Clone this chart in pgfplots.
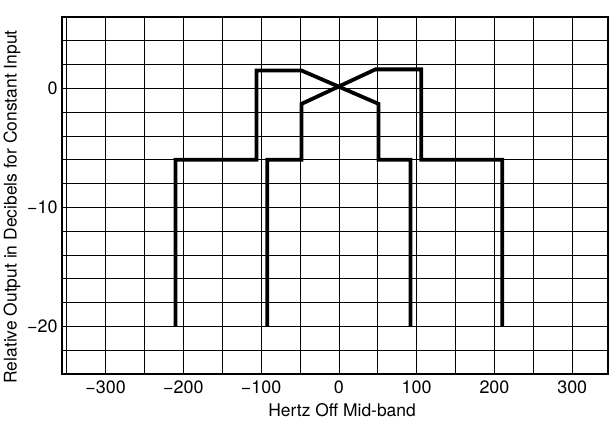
\documentclass[border=0pt]{standalone}
\usepackage{fontspec}
\setmainfont{TeX Gyre Heros}
\usepackage{pgfplots}
\pgfplotsset{compat=1.18}
\begin{document}
\begin{tikzpicture}[x=1bp,y=1bp]
\begin{axis}[
  at={(62bp,48bp)}, anchor=south west,
  scale only axis, width=546bp, height=357bp,
  xmin=-356, xmax=346, ymin=-24, ymax=6,
  xtick={-300,-200,-100,0,100,200,300},
  xticklabels={−300,−200,−100,0,100,200,300},
  minor xtick={-350,-250,-150,-50,50,150,250},
  ytick={-20,-10,0}, yticklabels={−20,−10,0},
  minor ytick={-22,-18,-16,-14,-12,-8,-6,-4,-2,2,4},
  grid=both,
  major grid style={black, line width=0.7pt},
  minor grid style={black, line width=0.7pt},
  major tick length=0pt, minor tick length=0pt,
  axis line style={line width=2pt},
  tick label style={font=\fontsize{18}{21}\selectfont},
  xticklabel style={yshift=-3bp},
  yticklabel style={xshift=-1bp},
  xlabel={Hertz Off Mid-band},
  ylabel={Relative Output in Decibels for Constant Input},
  every axis x label/.style={at={(axis description cs:0.513,-0.101)}, anchor=center, font=\fontsize{17.5}{21}\selectfont},
  every axis y label/.style={at={(axis description cs:-0.0916,0.468)}, anchor=center, rotate=90, font=\fontsize{17.5}{21}\selectfont},
]
\addplot[black, line width=3.8pt, line join=miter] coordinates {
(-210,-20) (-210,-6) (-106,-6) (-106,1.5) (-48,1.5) (51,-1.3) (51,-6) (92,-6) (92,-20)};
\addplot[black, line width=3.8pt, line join=miter] coordinates {
(-92,-20) (-92,-6) (-48,-6) (-48,-1.3) (47,1.6) (106,1.6) (106,-6) (210,-6) (210,-20)};
\end{axis}
\pgfresetboundingbox
\path[use as bounding box] (0,0) rectangle (612,422);
\end{tikzpicture}
\end{document}
